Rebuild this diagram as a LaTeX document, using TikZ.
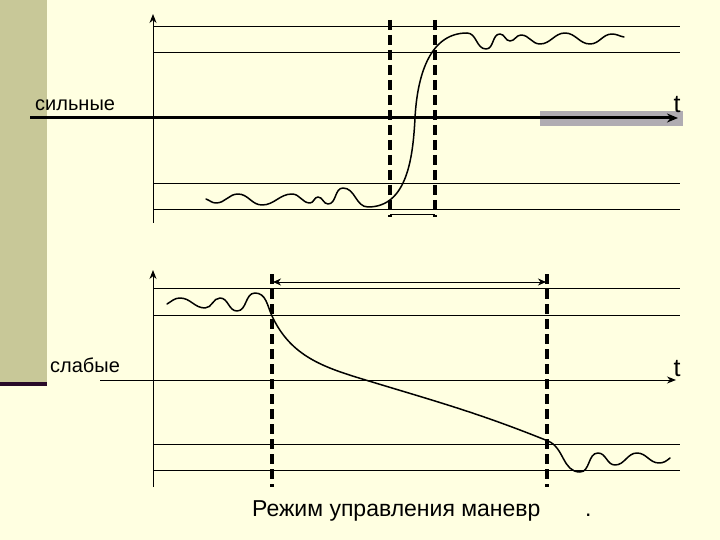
\documentclass[tikz,border=0pt]{standalone}
\usepackage{fontspec}
\setmainfont{Liberation Sans}
\usetikzlibrary{arrows.meta}
\definecolor{bgyellow}{RGB}{255,255,225}
\definecolor{stripolive}{RGB}{200,200,152}
\definecolor{barpurple}{RGB}{40,10,40}
\definecolor{axisgray}{RGB}{176,172,178}
\tikzset{
  thinline/.style={line width=1pt, black},
  dashline/.style={line width=3.5pt, black, dash pattern=on 10pt off 5pt},
  curveline/.style={line width=1.5pt, black, line join=round, line cap=round},
  wv/.style={out=0, in=180},
  axisarrow/.style={line width=1pt, -{Stealth[length=9pt,width=7pt]}},
  lbl/.style={font=\fontsize{20}{22}\selectfont, inner sep=0pt, anchor=base west},
  tlbl/.style={font=\fontsize{25}{28}\selectfont, inner sep=0pt, anchor=base},
}
\begin{document}
\begin{tikzpicture}[x=1pt,y=-1pt]
\useasboundingbox (0,0) rectangle (720,540);
\fill[bgyellow] (0,0) rectangle (720,540);
\fill[stripolive] (0,0) rectangle (47,382);
\fill[barpurple] (0,382) rectangle (47,386);

% ---------- top panel ----------
\foreach \yy in {27,53,184,210} \draw[thinline] (153,\yy) -- (680,\yy);
\coordinate (tva) at (153,223);
\coordinate (tvb) at (153,14);
\draw[axisarrow] (tva) -- (tvb);
\fill[axisgray] (540,111) rectangle (683,126);
\coordinate (tha) at (30,118);
\coordinate (thb) at (678,118);
\draw[line width=3pt, -{Stealth[length=11pt,width=9pt]}] (tha) -- (thb);
\node[lbl] (sil) at (35,111) {сильные};
\node[tlbl] (t1) at (677,113) {t};
\coordinate (d1a) at (390,20); \coordinate (d1b) at (390,217);
\coordinate (d2a) at (435,20); \coordinate (d2b) at (435,217);
\draw[dashline] (d1a) -- (d1b);
\draw[dashline] (d2a) -- (d2b);
\coordinate (ca) at (390,215); \coordinate (cb) at (435,215);
\draw[thinline] (ca) -- (cb);
\draw[curveline] (206,199) to[out=-20,in=180] (216,203) to[wv] (238,194)
 to[wv] (262,205) to[wv] (292,194) to[wv] (310,203) to[wv] (318,197)
 to[wv] (328,204) to[out=0,in=180] (343,188) to[out=0,in=180] (368,207)
 to[out=0,in=-93] (415,118) to[out=87,in=180] (467,33)
 to[wv] (486,49) to[wv] (500,34) to[wv] (510,41) to[wv] (521,35)
 to[wv] (540,44) to[wv] (565,33) to[wv] (590,44) to[wv] (612,34)
 to[out=0,in=170] (624,37);

% ---------- bottom panel ----------
\foreach \yy in {288,315,444,470} \draw[thinline] (153,\yy) -- (680,\yy);
\coordinate (bva) at (153,487);
\coordinate (bvb) at (153,270);
\draw[axisarrow] (bva) -- (bvb);
\coordinate (bha) at (100,380);
\coordinate (bhb) at (676,380);
\draw[axisarrow] (bha) -- (bhb);
\node[lbl] (sla) at (50,372) {слабые};
\node[tlbl] (t2) at (677,376) {t};
\coordinate (d3a) at (272,274); \coordinate (d3b) at (272,487);
\coordinate (d4a) at (547,274); \coordinate (d4b) at (547,487);
\draw[dashline] (d3a) -- (d3b);
\draw[dashline] (d4a) -- (d4b);
\coordinate (da) at (273,282); \coordinate (db) at (546,282);
\draw[line width=1pt, {Stealth[length=8pt,width=7pt]}-{Stealth[length=8pt,width=7pt]}] (da) -- (db);
\draw[curveline] (167,304) to[out=30,in=180] (180,298) to[wv] (205,308)
 to[wv] (220,298) to[wv] (237,311) to[wv] (255,293)
 to[out=0,in=115] (272,316) to[out=-65,in=163] (359,378)
 to[out=-17,in=158] (548,441) to[out=-22,in=180] (580,472)
 to[wv] (598,453) to[wv] (615,465) to[wv] (637,453) to[wv] (659,463)
 to[out=0,in=-140] (670,458);

\node[font=\fontsize{23}{26}\selectfont, inner sep=0pt, anchor=base west] (mode) at (252,516) {Режим управления маневр};
\node[font=\fontsize{23}{26}\selectfont, inner sep=0pt, anchor=base west] (dot) at (585,516) {.};
\end{tikzpicture}
\end{document}
